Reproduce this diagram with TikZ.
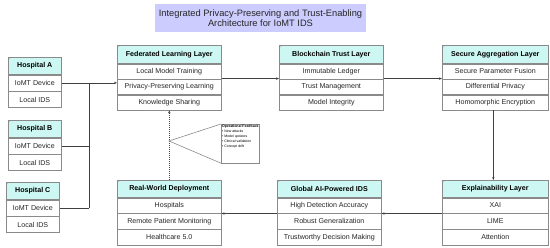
\documentclass[tikz,border=0pt]{standalone}
\usepackage{fontspec}
\setmainfont{Liberation Sans}
\usetikzlibrary{arrows.meta}
\definecolor{hdrcyan}{HTML}{CCF7F2}
\definecolor{titlefill}{HTML}{CCCCFF}
\definecolor{bordergray}{HTML}{8A8A8A}
\definecolor{linegray}{HTML}{404040}
\definecolor{txt}{HTML}{262626}
\begin{document}
\begin{tikzpicture}[x=1pt,y=-1pt,
  box/.style={draw=bordergray, line width=0.6pt, inner sep=0pt, anchor=north west, text=txt,
    font=\fontsize{7.1}{8}\selectfont},
  hdr/.style={box, fill=hdrcyan, text=black, font=\bfseries\fontsize{7.1}{8}\selectfont},
  rowbox/.style={box, fill=white},
  conn/.style={draw=linegray, line width=0.6pt},
  arr/.style={conn, -{Stealth[length=3pt,width=2.4pt]}},
  dotarr/.style={arr, dash pattern=on 1pt off 1pt},
  cornermark/.style={fill=bordergray}
]
\useasboundingbox (0,0) rectangle (550,248);

% Title
\node[fill=titlefill, minimum width=211pt, minimum height=28pt, inner sep=0pt, align=center,
  font=\fontsize{9.3}{10.5}\selectfont, text=txt] (title) at (260.5,18)
  {Integrated Privacy-Preserving and Trust-Enabling\\Architecture for IoMT IDS};

% Hospitals
\foreach \nm/\lab/\xx/\yy in {hA/A/8/57, hB/B/8/120, hC/C/6/182}{
  \node[hdr, minimum width=53pt, minimum height=17pt] (\nm0) at (\xx,\yy) {Hospital \lab};
  \node[rowbox, minimum width=53pt, minimum height=16pt] (\nm1) at (\nm0.south west) {IoMT Device};
  \node[rowbox, minimum width=53pt, minimum height=16pt] (\nm2) at (\nm1.south west) {Local IDS};
  \fill[cornermark] ([xshift=1.8pt,yshift=-1.8pt]\nm0.north west) circle (0.45pt);
}

% Top layer blocks
\foreach \nm/\xx/\ww/\ti/\ra/\rb/\rc in {
  fed/117/104/{Federated Learning Layer}/{Local Model Training}/{Privacy-Preserving Learning}/{Knowledge Sharing},
  bc/279/104/{Blockchain Trust Layer}/{Immutable Ledger}/{Trust Management}/{Model Integrity},
  sa/442/106/{Secure Aggregation Layer}/{Secure Parameter Fusion}/{Differential Privacy}/{Homomorphic Encryption}}{
  \node[hdr, minimum width=\ww pt, minimum height=18pt] (\nm0) at (\xx,45) {\ti};
  \node[rowbox, minimum width=\ww pt, minimum height=15pt] (\nm1) at (\nm0.south west) {\ra};
  \node[rowbox, minimum width=\ww pt, minimum height=15pt] (\nm2) at (\nm1.south west) {\rb};
  \node[rowbox, minimum width=\ww pt, minimum height=15pt] (\nm3) at (\nm2.south west) {\rc};
  \fill[cornermark] ([xshift=1.8pt,yshift=-1.8pt]\nm0.north west) circle (0.45pt);
}

% Bottom layer blocks
\foreach \nm/\xx/\ww/\ti/\ra/\rb/\rc in {
  rw/117/104/{Real-World Deployment}/{Hospitals}/{Remote Patient Monitoring}/{Healthcare 5.0},
  gl/277/104/{Global AI-Powered IDS}/{High Detection Accuracy}/{Robust Generalization}/{Trustworthy Decision Making},
  ex/442/106/{Explainability Layer}/{XAI}/{LIME}/{Attention}}{
  \node[hdr, minimum width=\ww pt, minimum height=17pt] (\nm0) at (\xx,180) {\ti};
  \node[rowbox, minimum width=\ww pt, minimum height=15.3pt] (\nm1) at (\nm0.south west) {\ra};
  \node[rowbox, minimum width=\ww pt, minimum height=15.3pt] (\nm2) at (\nm1.south west) {\rb};
  \node[rowbox, minimum width=\ww pt, minimum height=15.3pt] (\nm3) at (\nm2.south west) {\rc};
  \fill[cornermark] ([xshift=1.8pt,yshift=-1.8pt]\nm0.north west) circle (0.45pt);
}

% Hospital bus
\coordinate (busx) at (89,0);
\coordinate (busA) at (hA1.east -| busx);
\coordinate (busB) at (hB1.east -| busx);
\coordinate (busC) at (hC1.east -| busx);
\draw[conn] (hA1.east) -- (busA);
\draw[conn] (hB1.east) -- (busB);
\draw[conn] (hC1.east) -- (busC);
\draw[conn] (busA) -- (busC);
\draw[arr] (busA) -- (busA -| fed1.west);

% Top flow
\draw[arr] ([yshift=0.6pt]fed1.south east) -- ([yshift=0.6pt]fed1.south east -| bc1.west);
\draw[arr] ([yshift=0.6pt]bc1.south east) -- ([yshift=0.6pt]bc1.south east -| sa1.west);
\draw[arr] ([xshift=-2pt]sa3.south) -- ([xshift=-2pt]ex0.north);

% Bottom flow
\draw[arr] (ex1.south west) -- (ex1.south west -| gl1.east);
\draw[arr] (gl1.south west) -- (gl1.south west -| rw1.east);

% Feedback
\draw[dotarr] (rw0.north) -- (fed3.south);
\coordinate (fbtip) at (169,141);
\node[draw=bordergray, line width=0.6pt, fill=white, anchor=north west, inner sep=0.8pt,
  text=black, font=\fontsize{3.5}{5}\selectfont] (fb) at (221,124)
  {\parbox[t][37pt][t]{36.5pt}{\textbf{Operational Feedback}\\
   • New attacks\\ • Model updates\\ • Clinical validation\\ • Concept drift}};
\draw[draw=bordergray, line width=0.6pt] (fb.north west) -- (fbtip) -- (fb.south west);
\end{tikzpicture}
\end{document}
